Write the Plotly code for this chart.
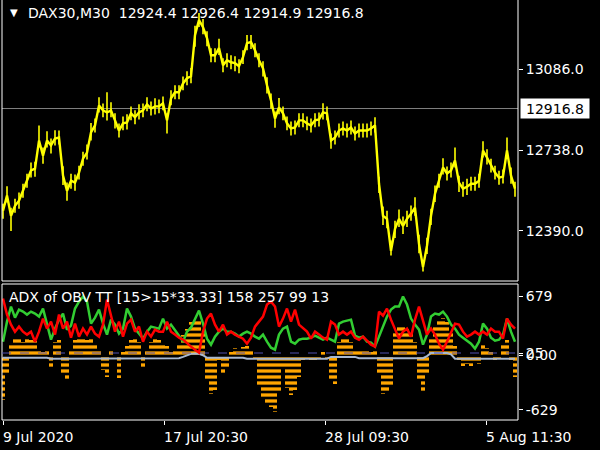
import plotly.graph_objects as go

# ---------------- data ----------------
price = [12477, 12542, 12455, 12498, 12520, 12563, 12606, 12650, 12658, 12779,
         12714, 12779, 12758, 12788, 12792, 12628, 12563, 12606, 12598, 12641,
         12701, 12727, 12814, 12844, 12930, 12909, 12900, 12909, 12866, 12822,
         12853, 12857, 12896, 12879, 12900, 12909, 12935, 12917, 12926, 12926,
         12939, 12866, 12961, 12987, 12987, 13025, 13047, 13056, 13233, 13298,
         13267, 13220, 13146, 13146, 13177, 13103, 13125, 13116, 13112, 13099,
         13138, 13198, 13203, 13168, 13125, 13090, 13017, 12952, 12874, 12922,
         12896, 12853, 12831, 12835, 12866, 12866, 12853, 12844, 12866, 12870,
         12900, 12896, 12779, 12792, 12822, 12831, 12822, 12835, 12809, 12822,
         12822, 12822, 12831, 12844, 12593, 12455, 12442, 12304, 12399, 12442,
         12412, 12442, 12464, 12490, 12334, 12235, 12326, 12455, 12550, 12606,
         12663, 12637, 12650, 12693, 12598, 12572, 12580, 12593, 12593, 12606,
         12736, 12706, 12671, 12641, 12619, 12624, 12736, 12628, 12572]

# bar range above / below the plotted price (points)
price_up = [30, 40, 35, 30, 35, 30, 30, 35, 30, 65,
            35, 40, 30, 35, 30, 40, 35, 30, 35, 30,
            30, 35, 40, 30, 35, 30, 87, 35, 30, 30,
            30, 35, 30, 30, 35, 30, 30, 30, 35, 30,
            30, 30, 35, 30, 30, 30, 30, 35, 40, 30,
            35, 30, 30, 30, 40, 30, 30, 30, 30, 30,
            30, 35, 30, 30, 30, 30, 35, 30, 30, 40,
            30, 30, 30, 30, 30, 30, 30, 30, 30, 30,
            40, 30, 30, 30, 30, 30, 30, 30, 30, 30,
            30, 30, 30, 35, 30, 40, 35, 45, 35, 40,
            40, 35, 35, 45, 40, 30, 35, 30, 35, 30,
            40, 30, 35, 56, 30, 30, 35, 30, 30, 30,
            40, 35, 30, 30, 30, 30, 56, 35, 30]
price_down = [35, 30, 65, 30, 35, 30, 30, 30, 35, 30,
              35, 30, 35, 30, 30, 40, 43, 35, 35, 30,
              30, 30, 35, 30, 30, 30, 35, 30, 35, 30,
              30, 30, 30, 30, 30, 30, 30, 30, 35, 30,
              30, 57, 30, 30, 30, 30, 30, 30, 50, 30,
              30, 35, 30, 30, 30, 30, 30, 30, 35, 30,
              30, 30, 30, 30, 30, 35, 35, 35, 40, 30,
              30, 30, 30, 30, 30, 30, 30, 30, 30, 30,
              30, 30, 35, 30, 30, 30, 30, 30, 30, 30,
              30, 30, 30, 30, 40, 40, 40, 20, 40, 35,
              35, 35, 30, 35, 40, 20, 35, 40, 35, 30,
              30, 30, 30, 30, 40, 35, 35, 30, 30, 30,
              30, 30, 30, 30, 30, 30, 30, 35, 35]

adx_green = [155, 385, 558, 431, 523, 500, 466, 500, 477, 443,
             535, 351, 178, 305, 408, 477, 293, 339, 535, 615,
             673, 615, 362, 431, 523, 362, 236, 408, 351, 247,
             305, 535, 443, 305, 247, 190, 270, 328, 316, 305,
             420, 305, 351, 293, 224, 155, 270, 316, 420, 512,
             362, 190, 121, 213, 270, 305, 270, 270, 247, 213,
             247, 270, 247, 213, 190, 236, 155, 86, 63, 236,
             305, 328, 155, 132, 178, 190, 190, 201, 224, 201,
             178, 201, 178, 155, 362, 385, 397, 408, 224, 201,
             213, 155, 144, 98, 213, 328, 443, 523, 558, 558,
             673, 581, 420, 351, 293, 121, 236, 443, 477, 466,
             500, 443, 351, 305, 236, 201, 167, 132, 75, 155,
             362, 305, 201, 167, 178, 236, 420, 270, 155]

adx_red = [650, 466, 351, 270, 328, 270, 236, 270, 155, 270,
           420, 305, 385, 236, 466, 305, 385, 201, 362, 213,
           305, 236, 328, 247, 213, 351, 638, 443, 270, 385,
           213, 362, 408, 270, 328, 155, 270, 213, 293, 270,
           270, 385, 270, 236, 201, 178, 132, 98, 63, 29,
           270, 420, 477, 351, 270, 351, 236, 270, 236, 213,
           190, 132, 201, 328, 385, 443, 581, 615, 558, 328,
           420, 535, 385, 523, 351, 305, 270, 190, 270, 236,
           201, 178, 385, 351, 236, 270, 236, 270, 201, 178,
           213, 167, 121, 98, 500, 454, 535, 408, 305, 190,
           270, 305, 213, 408, 558, 408, 236, 305, 236, 132,
           63, 155, 270, 362, 351, 270, 213, 236, 270, 236,
           270, 236, 305, 270, 270, 190, 420, 351, 305]

obv_hist = [-510, -200, 120, 200, 210, 150, 200, 180, 160, 60,
            40, 50, -160, 150, 180, -200, -280, 60, 170, 200,
            210, 180, 200, 120, 60, -170, -250, 50, -20, -260,
            40, 100, 180, 200, 150, -140, 60, 150, 190, 170,
            140, 100, 40, 60, 120, 230, 300, 380, 420, 400,
            260, -300, -450, -400, -60, -200, -150, 40, 80, 60,
            90, 100, 60, -30, -350, -500, -560, -600, -650, -420,
            -150, -380, -460, -400, -250, -60, -40, -50, -60, -40,
            40, -30, -300, -330, 150, 200, 190, 150, 60, 50,
            60, 70, 40, 50, -200, -450, -420, -350, 250, 340,
            350, 300, 250, 150, -300, -430, -200, 200, 330, 420,
            430, 380, 280, 100, -60, -120, -100, -120, -80, -100,
            120, 80, 40, -60, -40, 130, 180, -60, -250]

obv_signal = [-30, -30, -30, -30, -30, -30, -30, -30, -30, -30,
              -30, -30, -40, -40, -40, -40, -40, -40, -40, -40,
              -40, -40, -40, -40, -40, -40, -40, -40, -40, -40,
              -40, -35, -35, -35, -35, -35, -35, -35, -35, -35,
              -35, -35, -35, -35, -35, -20, 0, 15, 20, 15,
              0, -30, -30, -30, -30, -30, -30, -30, -30, -30,
              -30, -40, -40, -40, -40, -40, -40, -40, -40, -40,
              -40, -40, -40, -40, -40, -40, -40, -40, -40, -40,
              -40, -40, -20, -20, -20, -20, -20, -20, -20, -35,
              -35, -35, -35, -35, -35, -35, -35, -35, -35, -35,
              -35, -35, -35, -35, -35, -35, -10, 25, 25, 25,
              25, 25, 10, -40, -40, -40, -40, -40, -40, -40,
              -40, -40, -40, -40, -40, -40, -40, -40, -40]

bars = list(range(len(price)))

date_labels = ["9 Jul 2020", "17 Jul 20:30", "28 Jul 09:30", "5 Aug 11:30"]
date_bar_pos = [0, 40.25, 80.5, 120.75]

price_ticks = [12390.0, 12738.0, 13086.0]
last_price = 12916.8
ohlc_text = "DAX30,M30\u00a0\u00a012924.4 12926.4 12914.9 12916.8"

ind_ticks = [679, 25, 0, -629]
ind_ticktext = ["679", "25", "0.00", "-629"]
ind_level = 25
ind_label = "ADX of OBV TT [15>15*33.33] 158 257 99 13"

# ---------------- figure ----------------
FONT = "DejaVu Sans"
W, H = 600, 450
ML, MR, MT, MB = 2, 82, 0, 30
plot_h = H - MT - MB
top_dom = [(plot_h - 281) / plot_h, 1.0]
bot_dom = [0.0, (plot_h - 284) / plot_h]

fig = go.Figure()

fig.add_trace(go.Scatter(x=bars, y=price, mode="lines",
                         line=dict(color="#FFFF00", width=2.4),
                         error_y=dict(type="data", symmetric=False,
                                      array=price_up, arrayminus=price_down,
                                      color="#FFFF00", thickness=1.6, width=0),
                         xaxis="x", yaxis="y", hoverinfo="skip"))

fig.add_trace(go.Bar(x=bars, y=obv_hist, width=1.0,
                     marker=dict(color="rgba(0,0,0,0)", line=dict(width=0),
                                 pattern=dict(shape="-", fgcolor="#FFA500",
                                              fgopacity=1,
                                              bgcolor="rgba(0,0,0,0)",
                                              size=6, solidity=0.55,
                                              fillmode="overlay")),
                     xaxis="x", yaxis="y2", hoverinfo="skip"))

fig.add_trace(go.Scatter(x=bars, y=obv_signal, mode="lines",
                         line=dict(color="#A8B8D0", width=2),
                         xaxis="x", yaxis="y2", hoverinfo="skip"))
fig.add_trace(go.Scatter(x=bars, y=adx_green, mode="lines",
                         line=dict(color="#32CD32", width=2.5),
                         xaxis="x", yaxis="y2", hoverinfo="skip"))
fig.add_trace(go.Scatter(x=bars, y=adx_red, mode="lines",
                         line=dict(color="#FF0000", width=2.5),
                         xaxis="x", yaxis="y2", hoverinfo="skip"))

n = len(price)
fig.update_layout(
    width=W, height=H,
    margin=dict(l=ML, r=MR, t=MT, b=MB),
    paper_bgcolor="#000000", plot_bgcolor="#000000",
    showlegend=False, bargap=0,
    font=dict(family=FONT, size=14, color="#FFFFFF"),
    xaxis=dict(anchor="y2", domain=[0, 1], range=[-0.25, n - 0.25],
               showgrid=False, zeroline=False, showline=False,
               tickmode="array", tickvals=date_bar_pos, showticklabels=False,
               ticks="outside", ticklen=4, tickcolor="#FFFFFF"),
    yaxis=dict(domain=top_dom, side="right", anchor="x",
               range=[12174.4, 13384.0],
               showgrid=False, zeroline=False, showline=False,
               tickmode="array", tickvals=price_ticks,
               ticktext=[f"{v:.1f}" for v in price_ticks],
               ticks="outside", ticklen=4, tickcolor="#FFFFFF",
               tickfont=dict(family=FONT, size=14, color="#FFFFFF")),
    yaxis2=dict(domain=bot_dom, side="right", anchor="x",
                range=[-744, 817],
                showgrid=False, zeroline=False, showline=False,
                tickmode="array", tickvals=ind_ticks, ticktext=ind_ticktext,
                ticks="outside", ticklen=4, tickcolor="#FFFFFF",
                tickfont=dict(family=FONT, size=14, color="#FFFFFF")),
)

# panel borders (top panel: no top edge)
border = dict(color="#FFFFFF", width=1)
for x0, x1, y0, y1 in [(0, 0, top_dom[0], top_dom[1]),
                       (1, 1, top_dom[0], top_dom[1]),
                       (0, 1, top_dom[0], top_dom[0])]:
    fig.add_shape(type="line", xref="paper", yref="paper",
                  x0=x0, x1=x1, y0=y0, y1=y1, line=border, layer="above")
fig.add_shape(type="rect", xref="paper", yref="paper",
              x0=0, x1=1, y0=bot_dom[0], y1=bot_dom[1],
              line=border, layer="above")

# last-price line
fig.add_shape(type="line", xref="paper", yref="y", x0=0, x1=1,
              y0=last_price, y1=last_price,
              line=dict(color="#808080", width=1), layer="below")
# indicator level
fig.add_shape(type="line", xref="paper", yref="y2", x0=0, x1=1,
              y0=ind_level, y1=ind_level,
              line=dict(color="#5050B0", width=1, dash="dash"), layer="above")

px_w = W - ML - MR
def xpaper(px):
    return (px - ML) / px_w

def ypaper(py):
    return (plot_h - (py - MT)) / plot_h

# last-price label
fig.add_annotation(xref="paper", yref="y", x=xpaper(520), y=last_price,
                   xanchor="left", yanchor="middle", text=f"{last_price:.1f}",
                   showarrow=False, bgcolor="#FFFFFF", width=66, height=17,
                   borderpad=1, font=dict(family=FONT, size=14, color="#000000"))

# header
fig.add_annotation(xref="paper", yref="paper", x=xpaper(13.5), y=ypaper(12),
                   xanchor="center", yanchor="middle", text="\u25BC",
                   showarrow=False, font=dict(family=FONT, size=10, color="#FFFFFF"))
fig.add_annotation(xref="paper", yref="paper", x=xpaper(26), y=ypaper(13),
                   xanchor="left", yanchor="middle", text=ohlc_text,
                   showarrow=False, font=dict(family=FONT, size=14, color="#FFFFFF"))
# indicator label
fig.add_annotation(xref="paper", yref="paper", x=xpaper(7), y=ypaper(297),
                   xanchor="left", yanchor="middle", text=ind_label,
                   showarrow=False, font=dict(family=FONT, size=14, color="#FFFFFF"))

# date labels
for pos, lab in zip(date_bar_pos, date_labels):
    fig.add_annotation(xref="x", yref="paper", x=pos, y=ypaper(437),
                       xanchor="left", yanchor="middle", text=lab,
                       showarrow=False, xshift=-2,
                       font=dict(family=FONT, size=14, color="#FFFFFF"))

fig.write_html("out.html",
               config={"displayModeBar": False},
               post_script="document.body.style.margin='0';"
                           "document.body.style.overflow='hidden';")
